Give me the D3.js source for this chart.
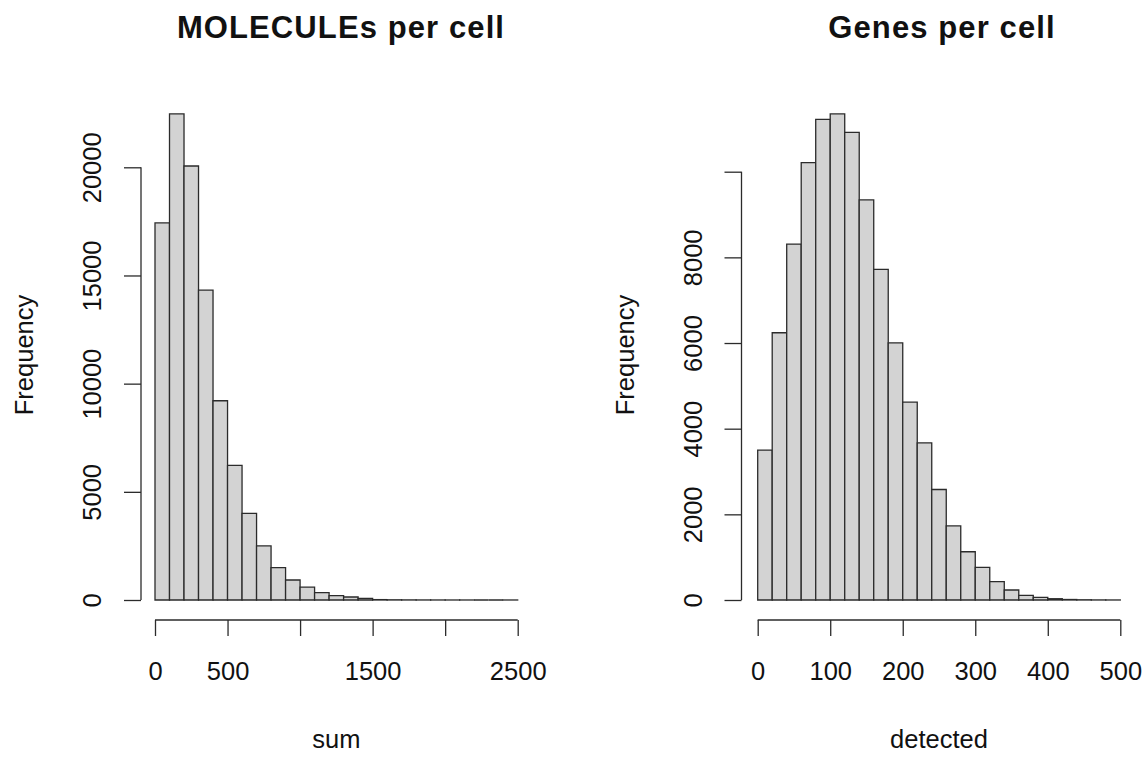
<!DOCTYPE html>
<html>
<head>
<meta charset="utf-8">
<script src="https://cdn.jsdelivr.net/npm/d3@7"></script>
<style>
  html, body { margin: 0; padding: 0; background: #fff; }
  svg { display: block; font-family: "Liberation Sans", Arial, sans-serif; }
</style>
</head>
<body>
<svg id="chart" width="1147" height="758"></svg>
<script>
// Histogram of total molecule counts per cell (bins of 100)
const sumBreaks = d3.range(0, 2501, 100);
const sumCounts = [17430, 22470, 20060, 14320, 9210, 6220, 4000, 2500, 1500, 924,
                   595, 345, 200, 139, 77, 18, 9, 5, 3, 2, 1, 1, 0, 0, 1];
const sumXTicks = [0, 500, 1000, 1500, 2000, 2500];
const sumXLabels = ["0", "500", "", "1500", "", "2500"];
const sumYTicks = [0, 5000, 10000, 15000, 20000];
const sumYLabels = ["0", "5000", "10000", "15000", "20000"];

// Histogram of detected genes per cell (bins of 20)
const detBreaks = d3.range(0, 501, 20);
const detCounts = [3500, 6240, 8310, 10210, 11220, 11350, 10920, 9340, 7720, 6005,
                   4620, 3670, 2580, 1730, 1127, 763, 428, 233, 109, 62,
                   30, 12, 5, 2, 1];
const detXTicks = [0, 100, 200, 300, 400, 500];
const detXLabels = ["0", "100", "200", "300", "400", "500"];
const detYTicks = [0, 2000, 4000, 6000, 8000, 10000];
const detYLabels = ["0", "2000", "4000", "6000", "8000", ""];

const svg = d3.select("#chart");
const ink = "#2b2b2b";

function panel(opts) {
  const g = svg.append("g");
  const x = d3.scaleLinear().domain(opts.xDomain).range(opts.xRange);
  const y = d3.scaleLinear().domain(opts.yDomain).range(opts.yRange);

  const bins = opts.counts.map((c, i) => ({ x0: opts.breaks[i], x1: opts.breaks[i + 1], n: c }));

  // every bin is outlined, empty ones collapse to a line on the baseline
  g.selectAll("path.bar").data(bins).join("path")
    .attr("class", "bar")
    .attr("d", d => {
      const x0 = x(d.x0), x1 = x(d.x1), y0 = y(0), y1 = y(d.n);
      return `M${x0},${y0}V${y1}H${x1}V${y0}Z`;
    })
    .attr("fill", "#d3d3d3")
    .attr("stroke", ink)
    .attr("stroke-width", 1.3);

  // x axis
  const xAxis = d3.axisBottom(x)
    .tickValues(opts.xTicks)
    .tickSize(16)
    .tickSizeOuter(0)
    .tickFormat((d, i) => opts.xLabels[i]);
  const gx = g.append("g")
    .attr("transform", `translate(0,${opts.xAxisY})`)
    .call(xAxis);
  gx.select(".domain").remove();
  gx.append("line")
    .attr("x1", x(opts.xTicks[0])).attr("x2", x(opts.xTicks[opts.xTicks.length - 1]))
    .attr("stroke", ink).attr("stroke-width", 1.3);
  gx.selectAll(".tick line").attr("stroke", ink).attr("stroke-width", 1.3);
  gx.selectAll(".tick text")
    .attr("y", 60).attr("dy", 0)
    .attr("fill", "#111")
    .style("font-size", "25.5px")
    .style("font-family", "Liberation Sans, Arial, sans-serif");

  // y axis
  const yAxis = d3.axisLeft(y)
    .tickValues(opts.yTicks)
    .tickSize(17)
    .tickSizeOuter(0)
    .tickFormat((d, i) => opts.yLabels[i]);
  const gy = g.append("g")
    .attr("transform", `translate(${opts.yAxisX},0)`)
    .call(yAxis);
  gy.select(".domain").remove();
  gy.append("line")
    .attr("y1", y(opts.yTicks[0])).attr("y2", y(opts.yTicks[opts.yTicks.length - 1]))
    .attr("stroke", ink).attr("stroke-width", 1.3);
  gy.selectAll(".tick line").attr("stroke", ink).attr("stroke-width", 1.3);
  gy.selectAll(".tick text")
    .attr("transform", "rotate(-90)")
    .attr("x", 0).attr("y", -40).attr("dy", 0)
    .attr("text-anchor", "middle")
    .attr("fill", "#111")
    .style("font-size", "25.5px")
    .style("font-family", "Liberation Sans, Arial, sans-serif");

  g.append("text")
    .attr("x", opts.titleX).attr("y", 38)
    .attr("text-anchor", "middle")
    .attr("font-weight", "bold")
    .attr("font-size", 31)
    .attr("letter-spacing", "1.1px")
    .attr("fill", "#111")
    .text(opts.title);

  const cx = (opts.xRange[0] + opts.xRange[1]) / 2;
  g.append("text")
    .attr("x", cx).attr("y", 748)
    .attr("text-anchor", "middle")
    .attr("font-size", 25.5)
    .attr("fill", "#111")
    .text(opts.xLabel);

  g.append("text")
    .attr("transform", `translate(${opts.yAxisX - 108},355) rotate(-90)`)
    .attr("text-anchor", "middle")
    .attr("font-size", 25.5)
    .attr("fill", "#111")
    .text("Frequency");
}

panel({
  breaks: sumBreaks, counts: sumCounts,
  xDomain: [0, 2500], xRange: [155, 517.7],
  yDomain: [0, 20000], yRange: [600, 167.3],
  xTicks: sumXTicks, xLabels: sumXLabels,
  yTicks: sumYTicks, yLabels: sumYLabels,
  xAxisY: 620, yAxisX: 141, titleX: 341,
  title: "MOLECULEs per cell", xLabel: "sum"
});

panel({
  breaks: detBreaks, counts: detCounts,
  xDomain: [0, 500], xRange: [757.7, 1120.3],
  yDomain: [0, 10000], yRange: [600, 171.7],
  xTicks: detXTicks, xLabels: detXLabels,
  yTicks: detYTicks, yLabels: detYLabels,
  xAxisY: 620, yAxisX: 741.5, titleX: 942,
  title: "Genes per cell", xLabel: "detected"
});
</script>
</body>
</html>
